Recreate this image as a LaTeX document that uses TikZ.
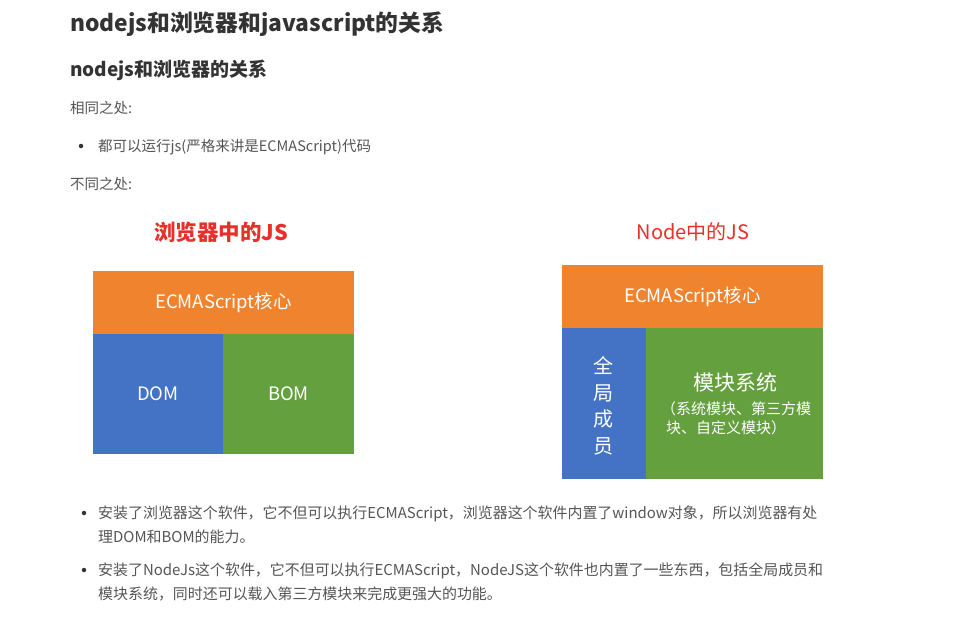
\documentclass[tikz,border=0pt]{standalone}
\usepackage{fontspec}
\setmainfont{Noto Sans CJK SC}
\definecolor{txt}{HTML}{333333}
\definecolor{graytxt}{HTML}{555555}
\definecolor{ored}{HTML}{F0832E}
\definecolor{oblue}{HTML}{4472C4}
\definecolor{ogreen}{HTML}{64A03E}
\definecolor{tred}{HTML}{E8302A}
\tikzset{
  h1/.style={anchor=base west, inner sep=0pt, text=txt, font=\fontsize{22.8}{27}\selectfont\bfseries},
  h2/.style={anchor=base west, inner sep=0pt, text=txt, font=\fontsize{19}{23}\selectfont\bfseries},
  body/.style={anchor=base west, inner sep=0pt, text=graytxt, font=\fontsize{14.5}{17}\selectfont},
  bodyb/.style={body, font=\fontsize{14.95}{17}\selectfont},
  bul/.style={circle, fill=txt, inner sep=0pt, minimum size=4.5pt},
  ptitle/.style={inner sep=0pt, text=tred, font=\fontsize{21.5}{24}\selectfont\bfseries},
  blktext/.style={inner sep=0pt, text=white, font=\fontsize{18.5}{22}\selectfont},
  smalltext/.style={inner sep=0pt, text=white, font=\fontsize{15}{18}\selectfont},
}
\begin{document}
\begin{tikzpicture}[x=1pt,y=-1pt]
\useasboundingbox[fill=white] (0,0) rectangle (960,626);
% headings
\node[h1] (t1) at (70,32) {nodejs和浏览器和javascript的关系};
\node[h2] (t2) at (70,76) {nodejs和浏览器的关系};
\node[body] (same) at (70,113) {相同之处:};
\node[bul] (b0) at (81,146) {};
\node[body] (l0) at (98,151) {都可以运行js(严格来讲是ECMAScript)代码};
\node[body] (diff) at (70,189) {不同之处:};
% left diagram
\node[ptitle] (lt) at (221,232) {浏览器中的JS};
\fill[ored] (93,271) rectangle (354,334);
\fill[oblue] (93,334) rectangle (223,454);
\fill[ogreen] (223,334) rectangle (354,454);
\node[blktext] (lcore) at (223.5,302.5) {ECMAScript核心};
\node[blktext] (dom) at (158,394) {DOM};
\node[blktext] (bom) at (288.5,394) {BOM};
% right diagram
\node[ptitle, font=\fontsize{20}{24}\selectfont] (rt) at (693,232) {Node中的JS};
\fill[ored] (562,265) rectangle (823,328);
\fill[oblue] (562,328) rectangle (646,479);
\fill[ogreen] (646,328) rectangle (823,479);
\node[blktext] (rcore) at (692.5,296.5) {ECMAScript核心};
\node[blktext, align=center, font=\fontsize{20}{26.5}\selectfont] (glob) at (603,406) {全\\局\\成\\员};
\node[blktext, font=\fontsize{21}{24}\selectfont] (mod) at (735,382) {模块系统};
\node[smalltext] (mod2) at (736,409) {（系统模块、第三方模};
\node[smalltext] (mod3) at (726,428) {块、自定义模块）};
% bottom bullets
\node[bul] (b1) at (84,513) {};
\node[bodyb] (p1a) at (98,518) {安装了浏览器这个软件，它不但可以执行ECMAScript，浏览器这个软件内置了window对象，所以浏览器有处};
\node[bodyb] (p1b) at (98,542) {理DOM和BOM的能力。};
\node[bul] (b2) at (84,570) {};
\node[bodyb] (p2a) at (98,575) {安装了NodeJs这个软件，它不但可以执行ECMAScript，NodeJS这个软件也内置了一些东西，包括全局成员和};
\node[bodyb] (p2b) at (98,599) {模块系统，同时还可以载入第三方模块来完成更强大的功能。};
\end{tikzpicture}
\end{document}
